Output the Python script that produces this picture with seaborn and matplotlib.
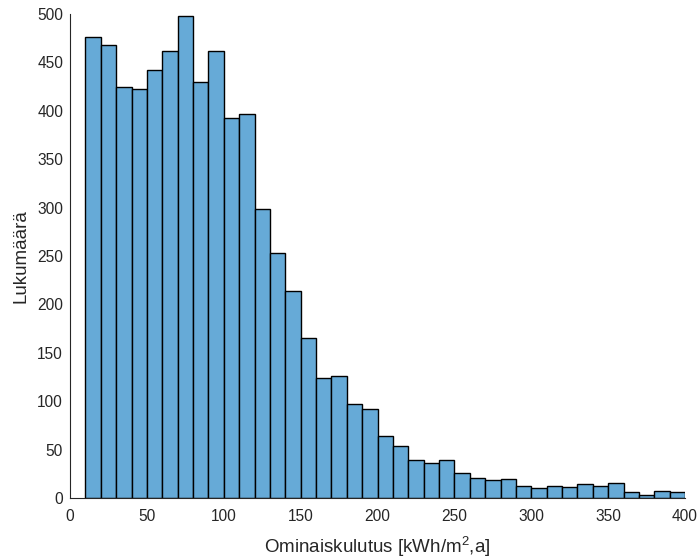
import numpy as np
import matplotlib
matplotlib.use("Agg")
import matplotlib.pyplot as plt
import seaborn as sns

# Histogram of specific energy consumption, bins of 10 kWh/m2,a
bin_edges = list(range(10, 401, 10))
counts = [476, 468, 425, 422, 442, 462, 498, 430, 462, 393,
          397, 299, 253, 214, 165, 124, 126, 97, 92, 64,
          54, 39, 36, 39, 26, 21, 19, 20, 12, 10,
          12, 11, 14, 12, 16, 6, 3, 7, 6]
x_ticks = [0, 50, 100, 150, 200, 250, 300, 350, 400]
y_ticks = [0, 50, 100, 150, 200, 250, 300, 350, 400, 450, 500]

centers = [(a + b) / 2 for a, b in zip(bin_edges[:-1], bin_edges[1:])]

sns.set_style("white")
plt.rcParams["font.family"] = ["Liberation Sans", "DejaVu Sans"]
plt.rcParams["mathtext.fontset"] = "custom"
plt.rcParams["mathtext.rm"] = "Liberation Sans"

axis_col = "#262626"

fig = plt.figure(figsize=(7.0, 5.58), dpi=100)
ax = fig.add_axes([0.1, 0.1075, 0.8786, 0.8675])

sns.histplot(x=centers, weights=counts, bins=bin_edges, ax=ax,
             color="#66AAD7", alpha=1.0, edgecolor="black", linewidth=1.0)

ax.set_xlim(0, 400)
ax.set_ylim(0, 500)
ax.set_xticks(x_ticks)
ax.set_yticks(y_ticks)
ax.tick_params(direction="in", length=5, width=0.8, colors=axis_col,
               labelsize=11.2, labelcolor=axis_col)
ax.tick_params(axis="x", pad=8)
ax.tick_params(axis="y", pad=5)
for side in ("top", "right"):
    ax.spines[side].set_visible(False)
for side in ("left", "bottom"):
    ax.spines[side].set_color(axis_col)
    ax.spines[side].set_linewidth(0.8)

ax.set_xlabel(r"Ominaiskulutus [kWh/m$^2$,a]", fontsize=13.5, color=axis_col)
ax.set_ylabel("Lukumäärä", fontsize=13.5, color=axis_col)
ax.xaxis.set_label_coords(0.5, -0.074)
ax.yaxis.set_label_coords(-0.066, 0.5)

fig.savefig("out.png", dpi=100)
